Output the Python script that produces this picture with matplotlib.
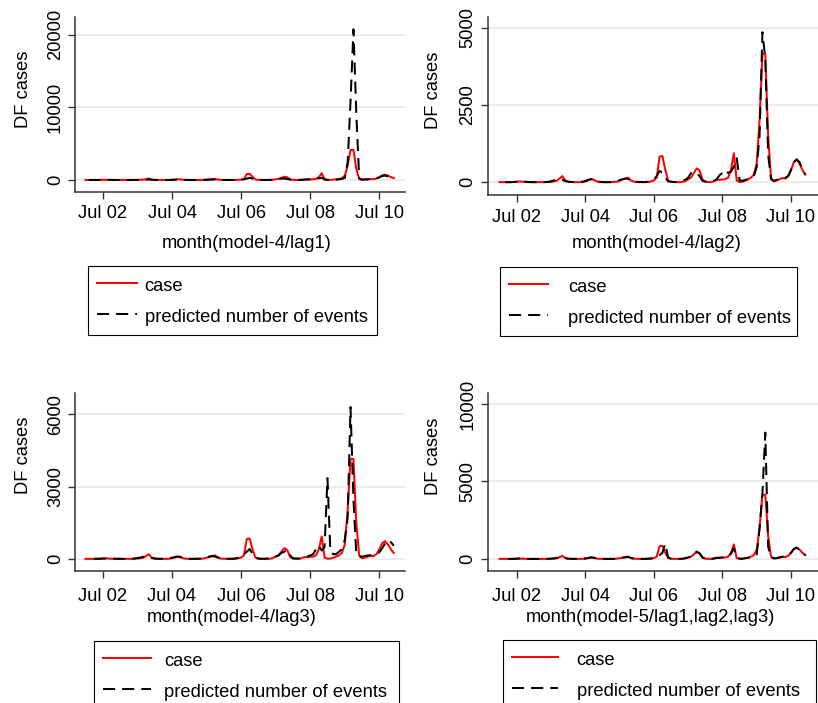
import numpy as np
import matplotlib
matplotlib.use("Agg")
import matplotlib.pyplot as plt
from matplotlib.lines import Line2D

plt.rcParams['font.family'] = ['Liberation Sans', 'DejaVu Sans']

nan = np.nan
W, H, DPI = 818, 703, 100

# ---------------- data (monthly, Jan 2002 .. Dec 2010) ----------------
tick_months = [6, 30, 54, 78, 102]
tick_labels = ["Jul 02", "Jul 04", "Jul 06", "Jul 08", "Jul 10"]

case = [
    10, 5, 5, 5, 5, 10, 20, 30, 20, 10, 5, 5,
    5, 5, 5, 5, 5, 10, 20, 30, 50, 120, 200, 60,
    20, 10, 5, 5, 5, 10, 30, 60, 110, 80, 30, 10,
    5, 5, 5, 5, 10, 20, 50, 90, 120, 150, 60, 20,
    10, 5, 5, 5, 10, 30, 60, 150, 830, 850, 400, 60,
    20, 10, 5, 5, 10, 40, 100, 150, 300, 450, 380, 100,
    20, 10, 5, 30, 80, 80, 90, 100, 150, 400, 940, 60,
    10, 20, 50, 100, 150, 250, 600, 2000, 4150, 4150, 1500, 150,
    30, 60, 100, 140, 120, 200, 400, 650, 740, 600, 400, 250,
]

pred_m4_lag1 = [
    nan, 5, 5, 5, 5, 10, 15, 20, 20, 10, 5, 5,
    5, 5, 5, 5, 5, 10, 15, 20, 30, 50, 60, 30,
    10, 5, 5, 5, 5, 10, 20, 30, 50, 40, 20, 10,
    5, 5, 5, 5, 10, 15, 30, 50, 60, 60, 30, 10,
    10, 5, 5, 5, 10, 30, 50, 100, 200, 300, 200, 50,
    20, 10, 5, 5, 10, 30, 80, 150, 200, 200, 150, 50,
    20, 10, 10, 20, 50, 80, 100, 150, 200, 250, 300, 100,
    20, 20, 30, 50, 80, 150, 300, 2500, 11000, 20750, 9000, 200,
    50, 80, 100, 150, 200, 250, 350, 550, 600, 500, 300, 150,
]

pred_m4_lag2 = [
    nan, nan, 5, 5, 5, 10, 15, 20, 25, 20, 10, 10,
    5, 5, 5, 5, 10, 15, 30, 60, 100, 110, 80, 40,
    20, 10, 10, 10, 10, 20, 40, 80, 100, 90, 50, 20,
    10, 5, 5, 10, 20, 40, 70, 100, 120, 110, 60, 30,
    20, 10, 10, 10, 20, 50, 100, 200, 370, 300, 150, 30,
    20, 10, 10, 20, 50, 80, 150, 300, 340, 300, 200, 50,
    20, 20, 20, 50, 100, 230, 300, 400, 300, 350, 500, 780,
    60, 50, 80, 100, 150, 200, 500, 1500, 4850, 4000, 900, 100,
    50, 80, 100, 120, 150, 200, 400, 650, 740, 650, 400, 250,
]

pred_m4_lag3 = [
    nan, nan, nan, 10, 10, 10, 15, 20, 25, 20, 15, 10,
    10, 5, 5, 5, 10, 20, 40, 60, 90, 100, 80, 40,
    20, 10, 10, 10, 20, 30, 50, 80, 100, 80, 50, 20,
    10, 5, 10, 10, 20, 40, 60, 100, 120, 100, 60, 30,
    20, 10, 10, 10, 20, 50, 100, 200, 300, 420, 200, 50,
    20, 10, 10, 20, 50, 80, 100, 150, 250, 300, 380, 150,
    30, 20, 20, 50, 80, 100, 150, 200, 400, 560, 350, 500,
    3350, 300, 200, 200, 300, 400, 800, 1700, 6300, 2500, 200, 100,
    100, 120, 150, 150, 180, 200, 280, 450, 650, 780, 700, 550,
]

pred_m5 = [
    nan, nan, nan, 5, 5, 10, 20, 30, 25, 15, 10, 5,
    5, 5, 5, 5, 10, 10, 20, 40, 60, 110, 150, 60,
    20, 10, 10, 10, 10, 15, 30, 60, 100, 80, 40, 15,
    10, 5, 5, 10, 10, 20, 50, 80, 110, 140, 70, 30,
    15, 10, 5, 10, 20, 30, 60, 100, 250, 400, 985, 100,
    20, 10, 10, 10, 20, 50, 100, 150, 300, 480, 350, 100,
    20, 10, 10, 30, 70, 80, 100, 120, 150, 350, 700, 100,
    20, 20, 50, 80, 100, 150, 300, 2000, 4200, 8150, 800, 100,
    50, 50, 100, 150, 150, 250, 400, 650, 720, 600, 400, 250,
]

series_labels = ["case", "predicted number of events"]
xlabels = ["month(model-4/lag1)", "month(model-4/lag2)",
           "month(model-4/lag3)", "month(model-5/lag1,lag2,lag3)"]
ylabel = "DF cases"
yticks_list = [[0, 10000, 20000], [0, 2500, 5000], [0, 3000, 6000], [0, 5000, 10000]]
preds = [pred_m4_lag1, pred_m4_lag2, pred_m4_lag3, pred_m5]

# ---------------- layout (pixels) ----------------
panels = [
    dict(box=(75, 17.3, 405, 192.3), xlim=(-3.7, 110.9), ylim=(-1693, 22395),
         ylab=(24, 89), xlab=(246.7, 243), xpad=4,
         leg=(88.3, 265.7, 376.7), hl=2.13, htp=0.44),
    dict(box=(487.7, 16.7, 818, 195), xlim=(-4.15, 111.45), ylim=(-410, 5352),
         ylab=(434, 90), xlab=(657, 243), xpad=5,
         leg=(500, 267, 797), hl=2.13, htp=1.1),
    dict(box=(75, 393.3, 405, 570.7), xlim=(-3.6, 110.9), ylim=(-485, 6871),
         ylab=(24, 455), xlab=(232, 618), xpad=7.5,
         leg=(94, 641, 399), hl=2.62, htp=0.71),
    dict(box=(487.7, 393.3, 818, 571), xlim=(-4.15, 111.45), ylim=(-774, 10690),
         ylab=(434, 456), xlab=(650, 618), xpad=7.5,
         leg=(503, 640, 816), hl=2.51, htp=1.0),
]

FS = 13.2
RED = "#ff0000"
AXC = "#333333"
GRID = "#e6e6e6"

fig = plt.figure(figsize=(W / DPI, H / DPI), dpi=DPI)
months = np.arange(len(case))

for p, pred, yt, xl in zip(panels, preds, yticks_list, xlabels):
    l, t, r, b = p["box"]
    ax = fig.add_axes([l / W, 1 - b / H, (r - l) / W, (b - t) / H])
    ax.plot(months, case, color=RED, lw=1.45, solid_joinstyle='round', label=series_labels[0])
    ax.plot(months, pred, color="black", lw=1.45, dashes=(6, 3.5), label=series_labels[1])
    ax.set_xlim(*p["xlim"])
    ax.set_ylim(*p["ylim"])
    ax.set_xticks(tick_months)
    ax.set_xticklabels(tick_labels, fontsize=FS)
    ax.set_yticks(yt)
    ax.set_yticklabels([str(v) for v in yt], fontsize=FS)
    for lab in ax.get_yticklabels():
        lab.set_rotation(90)
        lab.set_va('center')
    ax.grid(axis='y', color=GRID, lw=1.1)
    ax.set_axisbelow(True)
    for s in ['top', 'right']:
        ax.spines[s].set_visible(False)
    for s in ['left', 'bottom']:
        ax.spines[s].set_color(AXC)
        ax.spines[s].set_linewidth(1.1)
    ax.tick_params(direction='out', length=5, width=1.0, color=AXC, labelcolor='black')
    ax.tick_params(axis='x', pad=p["xpad"])
    ax.tick_params(axis='y', pad=3)
    ax.patch.set_alpha(0)

    ax.set_ylabel(ylabel, fontsize=FS)
    yx, yy = p["ylab"]
    ax.yaxis.set_label_coords((yx - l) / (r - l), (b - yy) / (b - t))
    ax.yaxis.label.set_va('center')
    ax.set_xlabel(xl, fontsize=FS)
    xx, xy = p["xlab"]
    ax.xaxis.set_label_coords((xx - l) / (r - l), (b - xy) / (b - t))
    ax.xaxis.label.set_va('center')

    ll, lt, lr = p["leg"]
    handles = [Line2D([], [], color=RED, lw=1.45),
               Line2D([], [], color='black', lw=1.45, dashes=(6, 3.5))]
    leg = fig.legend(handles, series_labels, loc='upper left',
                     bbox_to_anchor=(ll / W, 1 - (lt + 60) / H, (lr - ll) / W, 60 / H),
                     mode='expand', borderaxespad=0, fontsize=FS,
                     handlelength=p["hl"], handletextpad=p["htp"],
                     handleheight=1.27,
                     borderpad=0.5, labelspacing=0.6, fancybox=False,
                     frameon=True, edgecolor='black', framealpha=1, shadow=False)
    leg.get_frame().set_linewidth(0.8)

fig.savefig("out.png", dpi=DPI)
